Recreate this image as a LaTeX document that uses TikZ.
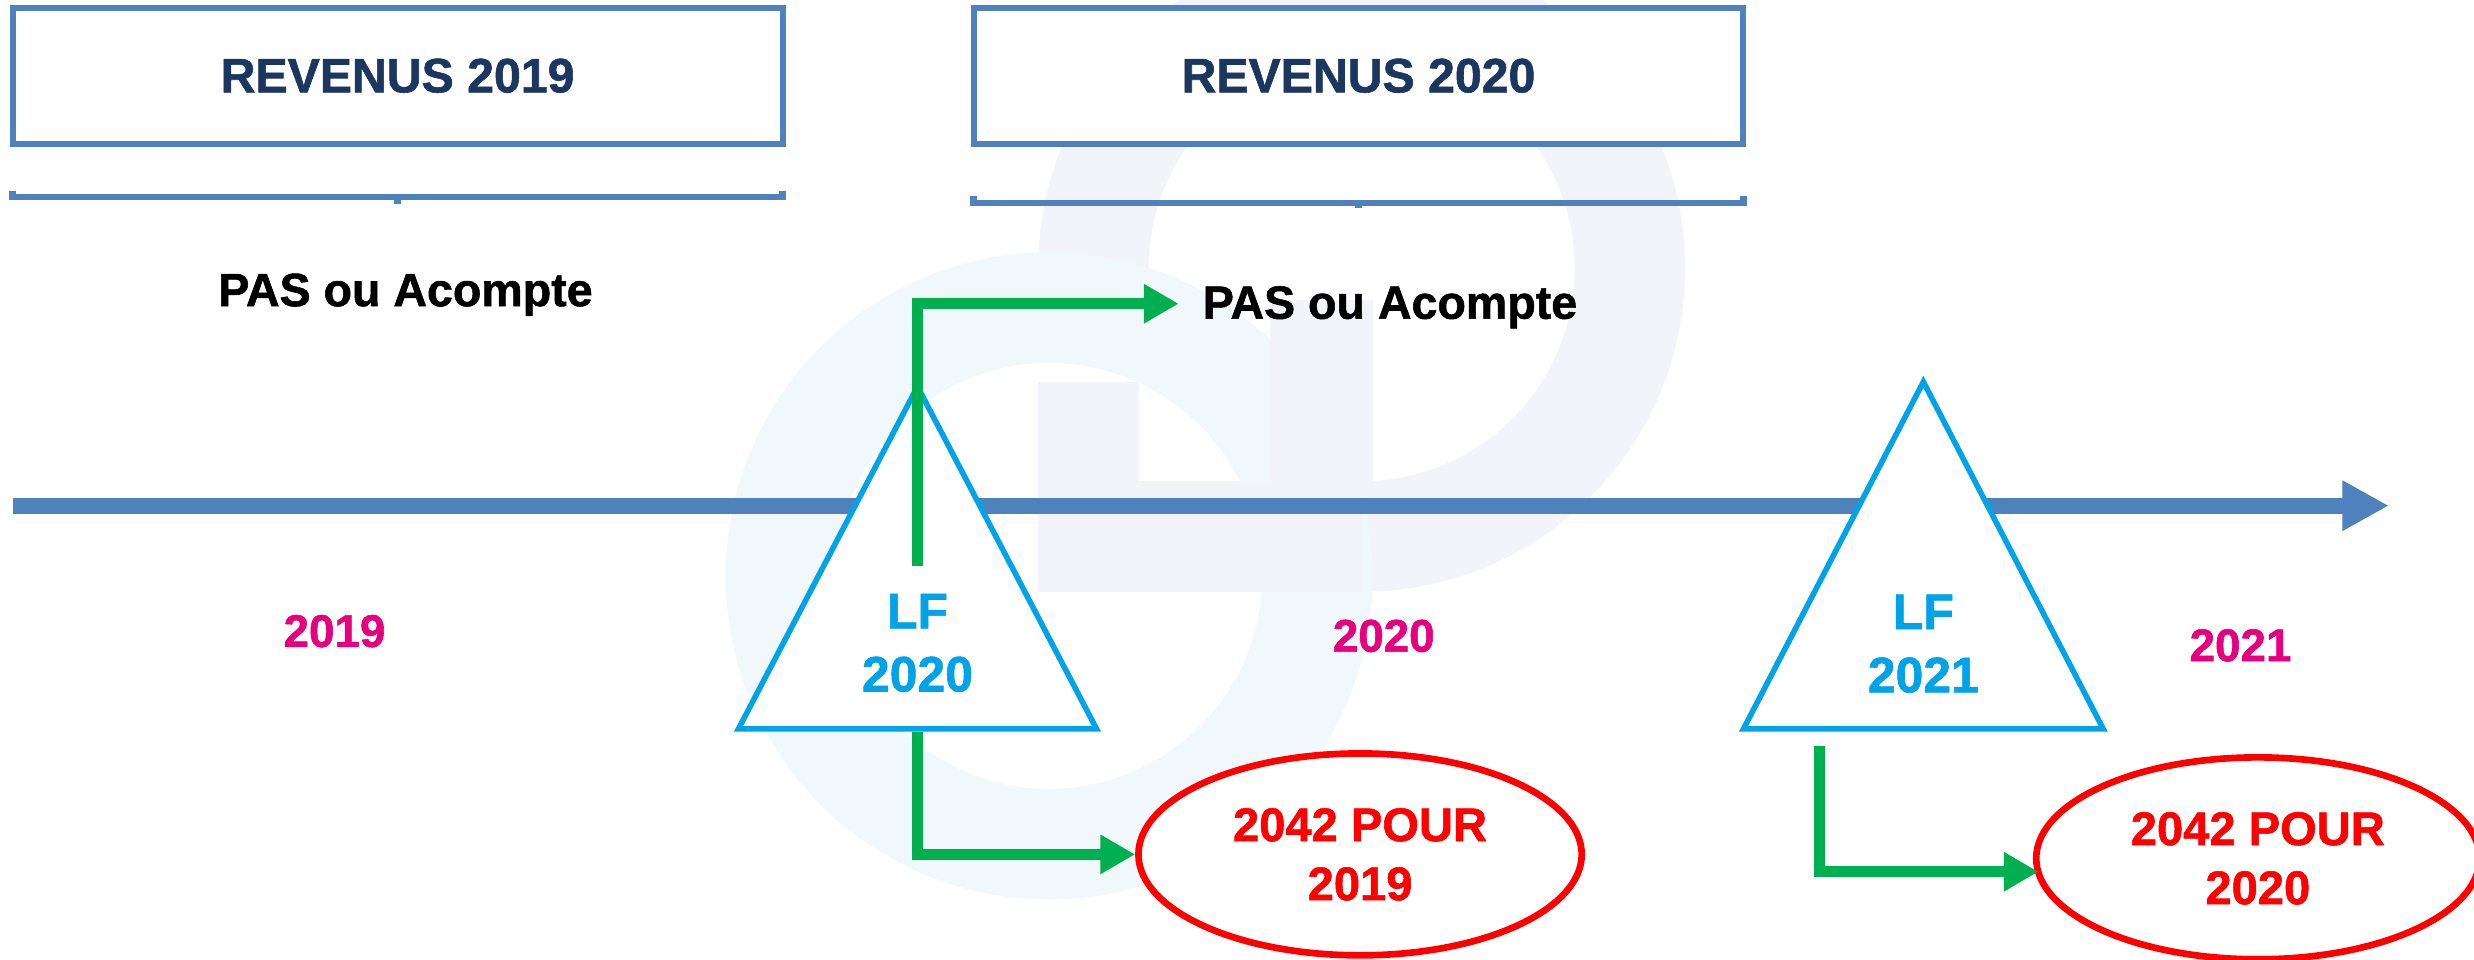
\documentclass[tikz,border=0pt]{standalone}
\usepackage{fontspec}
\setmainfont[BoldFeatures={FakeBold=1.2}]{Liberation Sans}
\usetikzlibrary{arrows.meta,shapes.geometric}
\definecolor{tlblue}{HTML}{4F81BD}
\definecolor{navy}{HTML}{1B365F}
\definecolor{lfcyan}{HTML}{00A2E8}
\definecolor{lgreen}{HTML}{00B050}
\definecolor{yearmag}{HTML}{E6007E}
\definecolor{wmgrey}{HTML}{F3F4F9}
\definecolor{wmblue}{HTML}{F0F8FC}
\begin{document}
\begin{tikzpicture}[x=0.02cm,y=-0.02cm,
 revbox/.style={draw=tlblue,line width=2.15pt,fill=white,minimum width=9.76cm,minimum height=1.72cm,inner sep=0pt,text=navy,font=\bfseries\fontsize{17.4}{21}\selectfont},
 bracket/.style={draw=tlblue,line width=2.3pt},
 pas/.style={font=\bfseries\fontsize{16.8}{20}\selectfont,text=black,inner sep=0pt},
 yearlbl/.style={font=\bfseries\fontsize{16.5}{20}\selectfont,text=yearmag,inner sep=0pt},
 lflbl/.style={font=\bfseries\fontsize{18}{22.8}\selectfont,text=lfcyan,align=center,inner sep=0pt},
 tri/.style={draw=lfcyan,line width=2pt,fill=white,line join=miter},
 oval/.style={ellipse,draw=red,line width=2.4pt,fill=white,minimum width=5.62cm,minimum height=2.56cm,inner sep=0pt,text=red,align=center,font=\bfseries\fontsize{17}{21.3}\selectfont},
 garrow/.style={draw=lgreen,line width=3.9pt,-{Triangle[length=0.44cm,width=0.47cm]}},
 timeline/.style={draw=tlblue,line width=5.8pt,-{Triangle[length=0.59cm,width=0.6cm]}}
]
\useasboundingbox (0,0) rectangle (1568,608);
\clip (0,0) rectangle (1568,608);
\fill[white] (0,0) rectangle (1568,608);

% watermark
\fill[wmgrey] (658,170) arc[start angle=180,end angle=450,radius=205] -- (863,305) arc[start angle=450,end angle=180,radius=135] -- cycle;
\fill[wmblue,even odd rule] (665,365) circle[radius=205] (665,365) circle[radius=135];
\fill[wmgrey] (658,242) rectangle (722,375);
\fill[wmgrey] (722,305) rectangle (863,375);
\fill[wmgrey] (805,190) rectangle (870,305);

% boxes and brackets
\node[revbox] (rev19) at (252,48) {REVENUS 2019};
\node[revbox] (rev20) at (861,48) {REVENUS 2020};
\draw[bracket] (8,121) -- (8,125) -- (496,125) -- (496,121);
\draw[bracket] (252,125) -- (252,129);
\draw[bracket] (617,124.5) -- (617,128.5) -- (1105,128.5) -- (1105,124.5);
\draw[bracket] (861,128.5) -- (861,132);

% timeline
\coordinate (tl0) at (8,320.5);
\coordinate (tl1) at (1514,320.5);
\draw[timeline] (tl0) -- (tl1);

% triangles
\coordinate (t1a) at (581.5,245);
\coordinate (t1b) at (468,462);
\coordinate (t1c) at (695,462);
\draw[tri] (t1a) -- (t1b) -- (t1c) -- cycle;
\coordinate (t2a) at (1219,242);
\coordinate (t2b) at (1105,462);
\coordinate (t2c) at (1333,462);
\draw[tri] (t2a) -- (t2b) -- (t2c) -- cycle;
\node[lflbl] (lf20) at (581.5,407.5) {LF\\2020};
\node[lflbl] (lf21) at (1219,408) {LF\\2021};

% texts
\node[pas,anchor=base] (pas1) at (257,194) {PAS ou Acompte};
\node[pas,anchor=base west] (pas2) at (762,202) {PAS ou Acompte};
\node[yearlbl,anchor=base] (y19) at (212,410) {2019};
\node[yearlbl,anchor=base] (y20) at (877,413) {2020};
\node[yearlbl,anchor=base] (y21) at (1420,419) {2021};

% ellipses
\node[oval] (e19) at (862,541.5) {2042 POUR\\2019};
\node[oval] (e20) at (1431,544) {2042 POUR\\2020};

% green arrows
\coordinate (g1s) at (581.5,359);
\coordinate (g1e) at (747,192.5);
\draw[garrow] (g1s) |- (g1e);
\coordinate (g2s) at (581.5,464);
\draw[garrow] (g2s) |- (e19.west);
\coordinate (g3s) at (1153,473);
\coordinate (g3e) at (1292,552.5);
\draw[garrow] (g3s) |- (g3e);
\end{tikzpicture}
\end{document}
